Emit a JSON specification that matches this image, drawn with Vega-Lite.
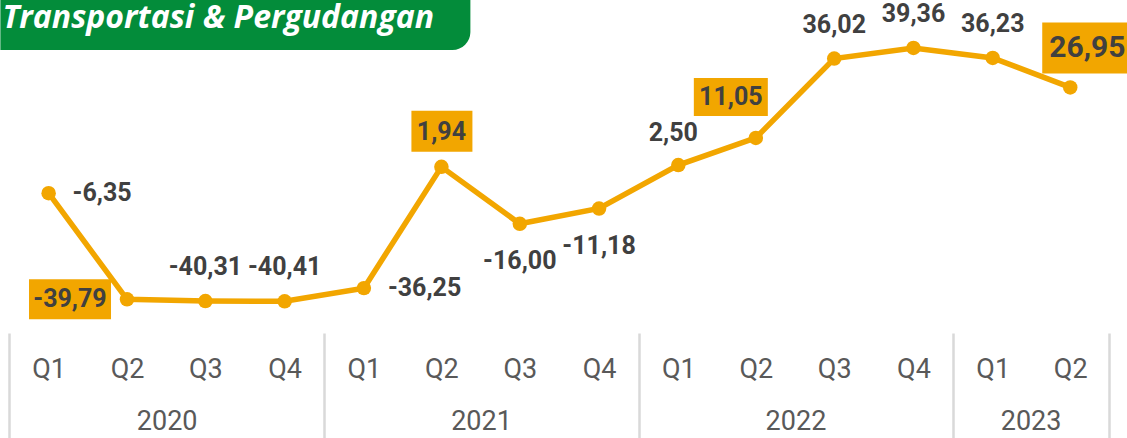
{
  "$schema": "https://vega.github.io/schema/vega-lite/v6.json",
  "width": 1100,
  "height": 333,
  "autosize": {"type": "none"},
  "padding": {"left": 9, "top": 0, "right": 18, "bottom": 105},
  "background": "white",
  "config": {
    "view": {"stroke": null},
    "locale": {"number": {"decimal": ",", "thousands": ".", "grouping": [3], "currency": ["", ""], "minus": "-"}}
  },
  "datasets": {
    "banner": [{"title": "Transportasi & Pergudangan"}],
    "gdp": [
      {"period": "2020-01-01", "value": -6.35},
      {"period": "2020-04-01", "value": -39.79},
      {"period": "2020-07-01", "value": -40.31},
      {"period": "2020-10-01", "value": -40.41},
      {"period": "2021-01-01", "value": -36.25},
      {"period": "2021-04-01", "value": 1.94},
      {"period": "2021-07-01", "value": -16.00},
      {"period": "2021-10-01", "value": -11.18},
      {"period": "2022-01-01", "value": 2.50},
      {"period": "2022-04-01", "value": 11.05},
      {"period": "2022-07-01", "value": 36.02},
      {"period": "2022-10-01", "value": 39.36},
      {"period": "2023-01-01", "value": 36.23},
      {"period": "2023-04-01", "value": 26.95}
    ]
  },
  "layer": [
    {
      "data": {"name": "banner"},
      "layer": [
        {
          "mark": {"type": "point", "shape": "M0,-0.54H9.4V0.1A0.36,0.36 0 0 1 9.04,0.46H0Z", "size": 10000, "filled": true, "color": "#038C3A", "opacity": 1, "strokeWidth": 0},
          "encoding": {
            "x": {"datum": {"year": 2019, "month": 11, "date": 6, "utc": true}, "type": "temporal", "axis": null,
              "scale": {"type": "utc", "domain": [{"year": 2019, "month": 11, "date": 16, "utc": true}, {"year": 2023, "month": 5, "date": 16, "utc": true}]}},
            "y": {"datum": 46.0, "type": "quantitative", "axis": null, "scale": {"domain": [-50.38, 54.47], "nice": false, "zero": false}}
          }
        },
        {
          "mark": {"type": "text", "font": "Open Sans", "fontSize": 32, "fontWeight": "bold", "fontStyle": "italic", "color": "white", "align": "left", "baseline": "alphabetic", "dx": 2, "dy": 1},
          "encoding": {
            "x": {"datum": {"year": 2019, "month": 11, "date": 6, "utc": true}, "type": "temporal", "axis": null,
              "scale": {"type": "utc", "domain": [{"year": 2019, "month": 11, "date": 16, "utc": true}, {"year": 2023, "month": 5, "date": 16, "utc": true}]}},
            "y": {"datum": 46.0, "type": "quantitative", "axis": null, "scale": {"domain": [-50.38, 54.47], "nice": false, "zero": false}},
            "text": {"field": "title"}
          }
        }
      ]
    },
    {
      "data": {"name": "gdp"},
      "encoding": {
        "x": {"field": "period", "type": "temporal", "axis": null,
          "scale": {"type": "utc", "domain": [{"year": 2019, "month": 11, "date": 16, "utc": true}, {"year": 2023, "month": 5, "date": 16, "utc": true}]}},
        "y": {"field": "value", "type": "quantitative", "axis": null,
          "scale": {"domain": [-50.38, 54.47], "nice": false, "zero": false}}
      },
      "layer": [
        {
          "mark": {"type": "line", "color": "#F2A600", "strokeWidth": 5.5},
          "encoding": {
            "x": {"field": "period", "type": "temporal",
              "scale": {"type": "utc", "domain": [{"year": 2019, "month": 11, "date": 16, "utc": true}, {"year": 2023, "month": 5, "date": 16, "utc": true}]},
              "axis": {"orient": "bottom", "title": null,
                "labelExpr": "'Q' + (floor(utcmonth(datum.value) / 3) + 1)",
                "values": [
                  {"year": 2020, "month": 1, "date": 1, "utc": true}, {"year": 2020, "month": 4, "date": 1, "utc": true},
                  {"year": 2020, "month": 7, "date": 1, "utc": true}, {"year": 2020, "month": 10, "date": 1, "utc": true},
                  {"year": 2021, "month": 1, "date": 1, "utc": true}, {"year": 2021, "month": 4, "date": 1, "utc": true},
                  {"year": 2021, "month": 7, "date": 1, "utc": true}, {"year": 2021, "month": 10, "date": 1, "utc": true},
                  {"year": 2022, "month": 1, "date": 1, "utc": true}, {"year": 2022, "month": 4, "date": 1, "utc": true},
                  {"year": 2022, "month": 7, "date": 1, "utc": true}, {"year": 2022, "month": 10, "date": 1, "utc": true},
                  {"year": 2023, "month": 1, "date": 1, "utc": true}, {"year": 2023, "month": 4, "date": 1, "utc": true}
                ],
                "labelFont": "Roboto", "labelFontSize": 27, "labelColor": "#595959", "labelBaseline": "middle", "labelPadding": 36,
                "ticks": false, "tickSize": 0, "domain": false, "grid": false, "labelFlush": false, "labelOverlap": false}},
            "y": {"field": "value", "type": "quantitative",
              "scale": {"domain": [-50.38, 54.47], "nice": false, "zero": false},
              "axis": {"values": [0], "grid": true, "gridColor": "#D9D9D9", "gridWidth": 2.5, "labels": false, "ticks": false, "domain": false, "title": null}}
          }
        },
        {
          "mark": {"type": "circle", "color": "#F2A600", "size": 210, "opacity": 1},
          "encoding": {
            "x": {"field": "period", "type": "temporal",
              "scale": {"type": "utc", "domain": [{"year": 2019, "month": 11, "date": 16, "utc": true}, {"year": 2023, "month": 5, "date": 16, "utc": true}]},
              "axis": {"orient": "bottom", "title": null, "labels": false, "domain": false, "grid": false,
                "ticks": true, "tickSize": 105, "tickColor": "#D9D9D9", "tickWidth": 2.5,
                "values": [
                  {"year": 2019, "month": 11, "date": 16, "utc": true}, {"year": 2020, "month": 11, "date": 16, "utc": true},
                  {"year": 2021, "month": 11, "date": 16, "utc": true}, {"year": 2022, "month": 11, "date": 16, "utc": true},
                  {"year": 2023, "month": 5, "date": 16, "utc": true}
                ]}}
          }
        },
        {
          "transform": [{"filter": "utcyear(datum.period) == 2020 && utcmonth(datum.period) == 3"}],
          "mark": {"type": "point", "shape": "M-1.96,-0.4H-0.32V0.4H-1.96Z", "size": 10000, "filled": true, "color": "#F2A600", "opacity": 1, "strokeWidth": 0}
        },
        {
          "transform": [{"filter": "utcyear(datum.period) == 2021 && utcmonth(datum.period) == 3"}],
          "mark": {"type": "point", "shape": "M-0.6,-1.12H0.62V-0.3H-0.6Z", "size": 10000, "filled": true, "color": "#F2A600", "opacity": 1, "strokeWidth": 0}
        },
        {
          "transform": [{"filter": "utcyear(datum.period) == 2022 && utcmonth(datum.period) == 3"}],
          "mark": {"type": "point", "shape": "M-1.24,-1.2H0.24V-0.44H-1.24Z", "size": 10000, "filled": true, "color": "#F2A600", "opacity": 1, "strokeWidth": 0}
        },
        {
          "transform": [{"filter": "utcyear(datum.period) == 2023 && utcmonth(datum.period) == 3"}],
          "mark": {"type": "point", "shape": "M-0.56,-1.3H1.4V-0.28H-0.56Z", "size": 10000, "filled": true, "color": "#F2A600", "opacity": 1, "strokeWidth": 0}
        },
        {
          "transform": [{"filter": "(utcyear(datum.period) == 2020 && utcmonth(datum.period) >= 6) || (utcyear(datum.period) == 2022 && utcmonth(datum.period) >= 6) || (utcyear(datum.period) == 2023 && utcmonth(datum.period) == 0)"}],
          "mark": {"type": "text", "font": "Roboto", "fontSize": 25, "fontWeight": "bold", "color": "#404040", "align": "center", "baseline": "middle", "dy": -34},
          "encoding": {
            "x": {"field": "period", "type": "temporal",
              "scale": {"type": "utc", "domain": [{"year": 2019, "month": 11, "date": 16, "utc": true}, {"year": 2023, "month": 5, "date": 16, "utc": true}]},
              "axis": {"orient": "bottom", "title": null,
                "labelExpr": "'' + utcyear(datum.value)",
                "values": [
                  {"year": 2020, "month": 5, "date": 17, "utc": true}, {"year": 2021, "month": 5, "date": 17, "utc": true},
                  {"year": 2022, "month": 5, "date": 17, "utc": true}, {"year": 2023, "month": 2, "date": 14, "utc": true}
                ],
                "labelFont": "Roboto", "labelFontSize": 27, "labelColor": "#595959", "labelBaseline": "middle", "labelPadding": 88,
                "ticks": false, "tickSize": 0, "domain": false, "grid": false, "labelFlush": false, "labelOverlap": false}},
            "text": {"field": "value", "type": "quantitative", "format": ".2f"}
          }
        },
        {
          "transform": [{"filter": "utcyear(datum.period) == 2022 && utcmonth(datum.period) == 0"}],
          "mark": {"type": "text", "font": "Roboto", "fontSize": 25, "fontWeight": "bold", "color": "#404040", "align": "center", "baseline": "middle", "dx": -5, "dy": -32},
          "encoding": {"text": {"field": "value", "type": "quantitative", "format": ".2f"}}
        },
        {
          "transform": [{"filter": "utcmonth(datum.period) == 0 && (utcyear(datum.period) == 2020 || utcyear(datum.period) == 2021)"}],
          "mark": {"type": "text", "font": "Roboto", "fontSize": 25, "fontWeight": "bold", "color": "#404040", "align": "left", "baseline": "middle", "dx": 24},
          "encoding": {"text": {"field": "value", "type": "quantitative", "format": ".2f"}}
        },
        {
          "transform": [{"filter": "utcyear(datum.period) == 2021 && utcmonth(datum.period) >= 6"}],
          "mark": {"type": "text", "font": "Roboto", "fontSize": 25, "fontWeight": "bold", "color": "#404040", "align": "center", "baseline": "middle", "dy": 37},
          "encoding": {"text": {"field": "value", "type": "quantitative", "format": ".2f"}}
        },
        {
          "transform": [{"filter": "utcyear(datum.period) == 2020 && utcmonth(datum.period) == 3"}],
          "mark": {"type": "text", "font": "Roboto", "fontSize": 25, "fontWeight": "bold", "color": "#404040", "align": "center", "baseline": "middle", "dx": -57},
          "encoding": {"text": {"field": "value", "type": "quantitative", "format": ".2f"}}
        },
        {
          "transform": [{"filter": "utcyear(datum.period) == 2021 && utcmonth(datum.period) == 3"}],
          "mark": {"type": "text", "font": "Roboto", "fontSize": 25, "fontWeight": "bold", "color": "#404040", "align": "center", "baseline": "middle", "dy": -35},
          "encoding": {"text": {"field": "value", "type": "quantitative", "format": ".2f"}}
        },
        {
          "transform": [{"filter": "utcyear(datum.period) == 2022 && utcmonth(datum.period) == 3"}],
          "mark": {"type": "text", "font": "Roboto", "fontSize": 25, "fontWeight": "bold", "color": "#404040", "align": "center", "baseline": "middle", "dx": -25, "dy": -41},
          "encoding": {"text": {"field": "value", "type": "quantitative", "format": ".2f"}}
        },
        {
          "transform": [{"filter": "utcyear(datum.period) == 2023 && utcmonth(datum.period) == 3"}],
          "mark": {"type": "text", "font": "Roboto", "fontSize": 30, "fontWeight": "bold", "color": "#404040", "align": "left", "baseline": "middle", "dx": -21, "dy": -39},
          "encoding": {"text": {"field": "value", "type": "quantitative", "format": ".2f"}}
        }
      ],
      "resolve": {"axis": {"x": "independent"}}
    }
  ],
  "resolve": {"axis": {"x": "independent"}}
}
